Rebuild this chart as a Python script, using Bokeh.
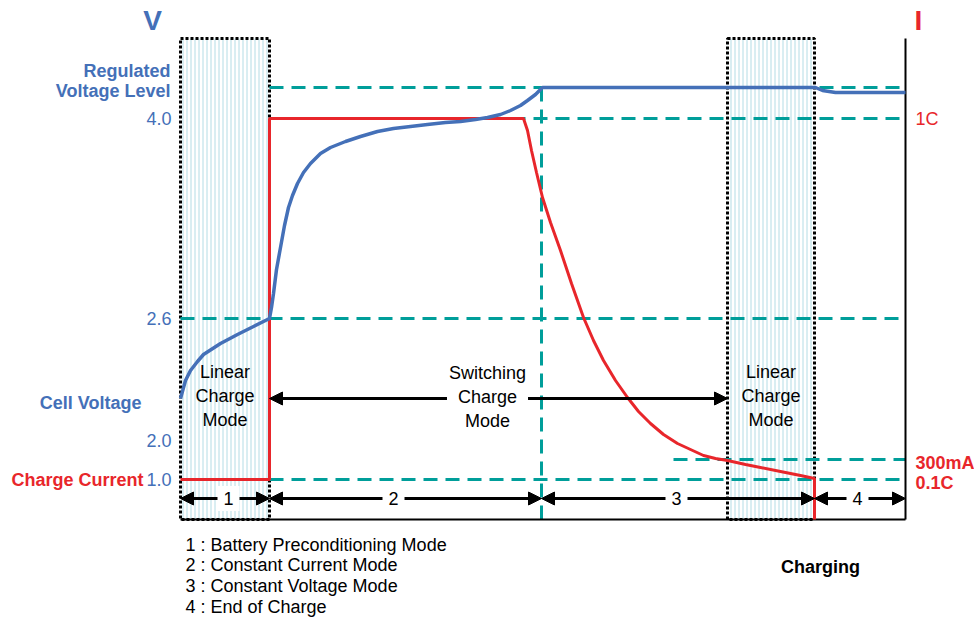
from bokeh.plotting import figure
from bokeh.models import Range1d, Label, Arrow, NormalHead
from bokeh.embed import file_html
from bokeh.resources import INLINE

# ---- data (schematic units: x = charge time, y = level) ----
time_v = [0, 5, 10, 17, 23, 40, 57, 73, 89, 91, 93, 96, 100, 104, 108, 112, 117, 123,
          130, 140, 150, 165, 180, 197, 213, 230, 247, 265, 280, 295, 307, 320, 330,
          340, 347, 355, 362, 635, 642, 655, 725]
cell_voltage = [121, 139, 149, 158, 165, 176, 185, 193, 201, 212, 226, 250, 272, 294,
                312, 324, 336, 347, 356, 366, 372, 378, 383, 388, 391, 393, 395, 397,
                398, 400, 402, 405, 409, 414, 419, 425, 432, 432, 429, 427, 427]

time_i = [0, 89, 89, 343, 347, 351, 356, 362, 370, 380, 391, 403, 413, 423, 435, 447,
          458, 470, 483, 497, 510, 523, 535, 547, 565, 580, 600, 620, 634, 634]
charge_current = [40, 40, 401, 401, 389, 369, 347, 322, 297, 269, 236, 202, 179, 159,
                  139, 122, 108, 96, 85, 76, 70, 64, 61, 59, 55, 52, 48, 44, 41, 0]

v_ticks = [401, 201, 79, 40]
v_tick_labels = ["4.0", "2.6", "2.0", "1.0"]
i_ticks = [401]
i_tick_labels = ["1C"]

regulated_level = 432
level_26 = 201
level_40 = 401
current_300mA = 60
current_01C = 40

phase_edges = [0, 89, 361, 634, 725]
phase_names = ["1", "2", "3", "4"]
phase_label_x = [48, 213, 496, 677]
linear_left = [0, 547]
linear_right = [89, 634]
switch_start, switch_end = 89, 547
t_end = 725
top_level = 481

legend_lines = ["1 : Battery Preconditioning Mode", "2 : Constant Current Mode",
                "3 : Constant Voltage Mode", "4 : End of Charge"]

BLUE = "#4470b8"
RED = "#e8262b"
TEAL = "#009e9a"
FONT = "Liberation Sans"
FS = "18px"

p = figure(width=974, height=618, x_range=Range1d(-180, 794), y_range=Range1d(-99, 519),
           output_backend="svg", toolbar_location=None,
           x_axis_type=None, y_axis_type=None,
           min_border_left=0, min_border_right=0, min_border_top=0, min_border_bottom=0)
p.grid.visible = False
p.outline_line_color = None
p.background_fill_color = "white"
p.border_fill_color = "white"

# linear-charge windows
p.quad(left=linear_left, right=linear_right, bottom=0, top=top_level,
       fill_color="white", hatch_pattern="vertical_line", hatch_color="#b3dce5",
       hatch_scale=4, hatch_weight=1,
       line_color="black", line_width=3, line_dash="3 2")

# reference dashed lines
hx0 = [phase_edges[1], phase_edges[1], 0, 493, phase_edges[1]]
hx1 = [t_end] * 5
hy = [regulated_level, level_40, level_26, current_300mA, current_01C]
p.segment(x0=hx0, y0=hy, x1=hx1, y1=hy, line_color=TEAL, line_width=3, line_dash="14 8")
p.segment(x0=[phase_edges[2]], y0=[0], x1=[phase_edges[2]], y1=[regulated_level],
          line_color=TEAL, line_width=3, line_dash="14 8")

# axes frame: current axis on the right, time axis at the bottom
p.segment(x0=[t_end, 0], y0=[0, 0], x1=[t_end, t_end], y1=[top_level, 0],
          line_color="black", line_width=2)

# curves
p.line(time_i, charge_current, line_color=RED, line_width=3)
p.line(time_v, cell_voltage, line_color=BLUE, line_width=3.5)

def head():
    return NormalHead(size=13, fill_color="black", line_color="black", line_width=1)

def lab(x, y, text, color, size=FS, bold=False, align="right", baseline="middle", bg=None, pad=0):
    p.add_layout(Label(x=x, y=y, text=text, text_color=color, text_font=FONT,
                       text_font_size=size, text_font_style="bold" if bold else "normal",
                       text_align=align, text_baseline=baseline,
                       background_fill_color=bg, padding=pad))

# phase arrows
arrow_y = 21
for a, b in zip(phase_edges[:-1], phase_edges[1:]):
    p.add_layout(Arrow(start=head(), end=head(), x_start=a, y_start=arrow_y,
                       x_end=b, y_end=arrow_y, line_width=3, line_color="black"))
for x, name in zip(phase_label_x, phase_names):
    lab(x, arrow_y, name, "black", align="center", bg="white", pad=6)

# switching charge arrow
mode_y = 121
p.add_layout(Arrow(start=head(), end=head(), x_start=switch_start, y_start=mode_y,
                   x_end=switch_end, y_end=mode_y, line_width=3, line_color="black"))
lab(307, 123, "Switching\nCharge\nMode", "black", align="center", bg="white", pad=2)
for lx, rx in zip(linear_left, linear_right):
    lab((lx + rx) / 2, 124, "Linear\nCharge\nMode", "black", align="center")

# tick labels
for t, s in zip(v_ticks, v_tick_labels):
    lab(-9, t, s, BLUE)
for t, s in zip(i_ticks, i_tick_labels):
    lab(735, t, s, RED, align="left")

lab(-28, 499, "V", BLUE, size="28px", bold=True, align="center")
lab(738, 499, "I", RED, size="28px", bold=True, align="center")
lab(-10, 449, "Regulated", BLUE, bold=True)
lab(-10, 429, "Voltage Level", BLUE, bold=True)
lab(-39, 117, "Cell Voltage", BLUE, bold=True)
lab(-37, 40, "Charge Current", RED, bold=True)
lab(735, 57, "300mA", RED, bold=True, align="left")
lab(735, 37, "0.1C", RED, bold=True, align="left")
lab(640, -47, "Charging", "black", bold=True, align="center")

for k, line in enumerate(legend_lines):
    lab(5, -25 - 20.7 * k, line, "black", align="left")

open("out.html", "w").write(file_html(p, INLINE))
